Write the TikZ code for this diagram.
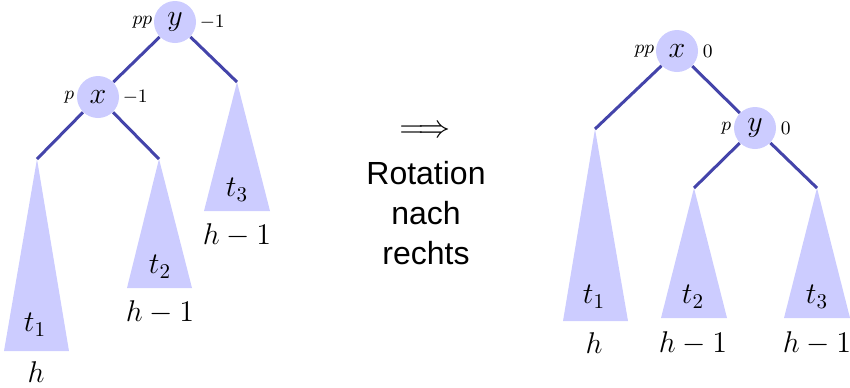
\RequirePackage{fix-cm}
\documentclass[tikz,border=0pt]{standalone}
\usepackage{fontspec}
\setsansfont{Liberation Sans}
\definecolor{nodefill}{RGB}{204,204,255}
\definecolor{edgecol}{RGB}{68,68,170}
\tikzset{
 knot/.style={circle, fill=nodefill, minimum size=21pt, inner sep=0pt, font=\fontsize{15}{18}\selectfont},
 lbl/.style={inner sep=0pt, font=\fontsize{9.5}{11}\selectfont},
 edge/.style={draw=edgecol, line width=1.5pt},
 sub/.style={fill=nodefill},
 tlab/.style={inner sep=0pt, font=\fontsize{15}{18}\selectfont},
 word/.style={inner sep=0pt, font=\sffamily\fontsize{16}{19}\selectfont},
}
\begin{document}
\begin{tikzpicture}[x=0.5pt,y=-0.5pt]
\useasboundingbox (0,0) rectangle (850,387);
% left tree
\coordinate (a1) at (37,159);
\coordinate (a2) at (159,159);
\coordinate (a3) at (237,82);
\fill[sub] (a1) -- (69,351) -- (4,351) -- cycle;
\fill[sub] (a2) -- (192,288) -- (127,288) -- cycle;
\fill[sub] (a3) -- (270,211) -- (204,211) -- cycle;
\node[knot] (y1) at (175,22) {$y$};
\node[knot] (x1) at (98,97) {$x$};
\node[lbl, anchor=east] (y1pp) at ([xshift=-0.5pt]y1.west) {$pp$};
\node[lbl, anchor=west] (y1b) at ([xshift=1.5pt]y1.east) {$-1$};
\node[lbl, anchor=east] (x1p) at ([xshift=-1pt]x1.west) {$p$};
\node[lbl, anchor=west] (x1b) at ([xshift=1.5pt]x1.east) {$-1$};
\draw[edge] (y1) -- (x1);
\draw[edge] (y1) -- (a3);
\draw[edge] (x1) -- (a1);
\draw[edge] (x1) -- (a2);
\node[tlab] (lt1) at (35,325) {$t_1$};
\node[tlab] (lh1) at (36,372) {$h$};
\node[tlab] (lt2) at (160,267) {$t_2$};
\node[tlab] (lh2) at (160,312) {$h-1$};
\node[tlab] (lt3) at (237,190) {$t_3$};
\node[tlab] (lh3) at (237,235) {$h-1$};
% middle
\node[inner sep=0pt, font=\fontsize{16}{19}\selectfont] (arr) at (425,132) {$\Longrightarrow$};
\node[word] (w1) at (426,173) {Rotation};
\node[word] (w2) at (426,213) {nach};
\node[word] (w3) at (426,253) {rechts};
% right tree
\coordinate (b1) at (595,129);
\coordinate (b2) at (694,188);
\coordinate (b3) at (817,188);
\fill[sub] (b1) -- (628,321) -- (563,321) -- cycle;
\fill[sub] (b2) -- (727,318) -- (661,318) -- cycle;
\fill[sub] (b3) -- (850,318) -- (784,318) -- cycle;
\node[knot] (x2) at (677,51) {$x$};
\node[knot] (y2) at (755,128) {$y$};
\node[lbl, anchor=east] (x2pp) at ([xshift=-0.5pt]x2.west) {$pp$};
\node[lbl, anchor=west] (x2b) at ([xshift=2pt]x2.east) {$0$};
\node[lbl, anchor=east] (y2p) at ([xshift=-1pt]y2.west) {$p$};
\node[lbl, anchor=west] (y2b) at ([xshift=2pt]y2.east) {$0$};
\draw[edge] (x2) -- (b1);
\draw[edge] (x2) -- (y2);
\draw[edge] (y2) -- (b2);
\draw[edge] (y2) -- (b3);
\node[tlab] (rt1) at (594,297) {$t_1$};
\node[tlab] (rh1) at (594,343) {$h$};
\node[tlab] (rt2) at (693,297) {$t_2$};
\node[tlab] (rh2) at (693,343) {$h-1$};
\node[tlab] (rt3) at (817,297) {$t_3$};
\node[tlab] (rh3) at (817,343) {$h-1$};
\end{tikzpicture}
\end{document}
